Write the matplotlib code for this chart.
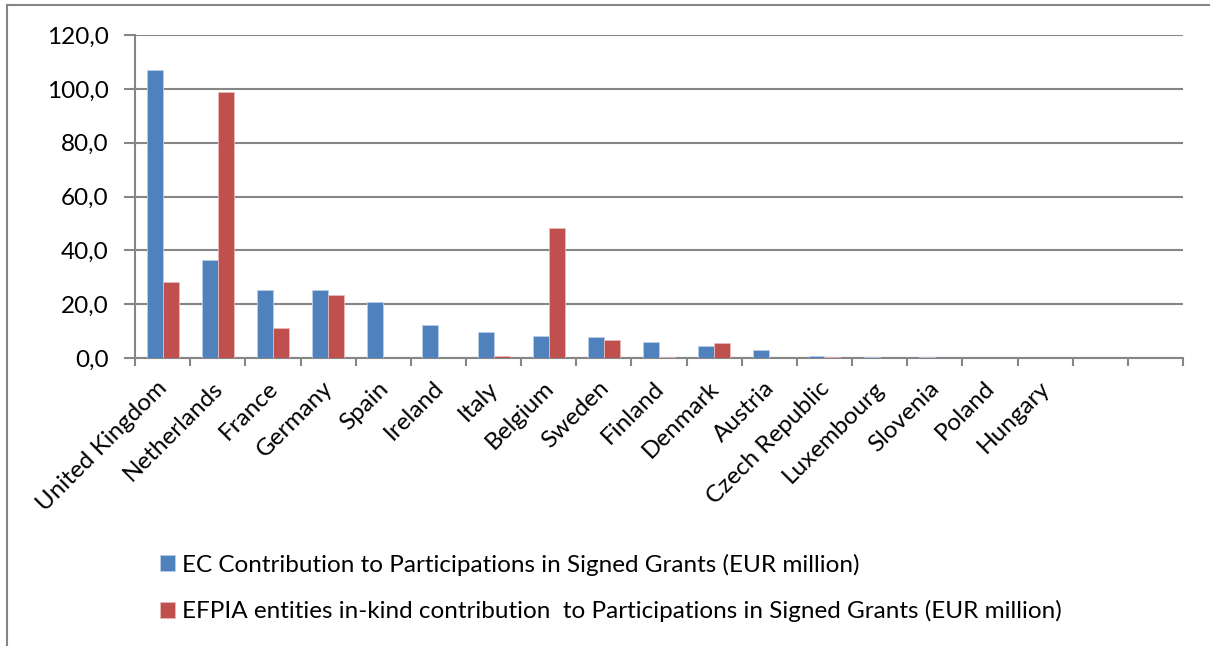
import numpy as np
import matplotlib.pyplot as plt
import matplotlib.transforms as mtransforms
from matplotlib.lines import Line2D

plt.rcParams['font.family'] = ['Lato', 'DejaVu Sans']

# Data (EUR million)
countries = ['United Kingdom', 'Netherlands', 'France', 'Germany', 'Spain',
             'Ireland', 'Italy', 'Belgium', 'Sweden', 'Finland', 'Denmark',
             'Austria', 'Czech Republic', 'Luxembourg', 'Slovenia', 'Poland',
             'Hungary', '', '']
ec_contrib = [107.0, 36.4, 25.3, 25.2, 20.9, 12.3, 9.8, 8.2, 7.7, 6.0, 4.4,
              3.0, 0.6, 0.5, 0.2, 0.1, 0.0, 0.0, 0.0]
efpia_contrib = [28.4, 98.7, 11.3, 23.5, 0.0, 0.0, 0.8, 48.3, 6.6, 0.3, 5.6,
                 0.0, 0.3, 0.0, 0.0, 0.0, 0.0, 0.0, 0.0]
y_ticks = [0, 20, 40, 60, 80, 100, 120]
labels = ['EC Contribution to Participations in Signed Grants (EUR million)',
          'EFPIA entities in-kind contribution  to Participations in Signed Grants (EUR million)']

blue = '#4F81BD'
red = '#C0504D'
grid_col = '#868686'

fig = plt.figure(figsize=(12.1, 6.46), dpi=100)
ax = fig.add_axes([0.1116, 0.4458, 0.8661, 0.5000])

x = np.arange(len(countries))
w = 0.29
ax.bar(x - w / 2, ec_contrib, w, color=blue, edgecolor='#B9CDE5', linewidth=0.6,
       label=labels[0], zorder=3)
ax.bar(x + w / 2, efpia_contrib, w, color=red, edgecolor='#E6B9B8', linewidth=0.6,
       label=labels[1], zorder=3)

ax.set_xlim(-0.5, len(countries) - 0.5)
ax.set_ylim(0, 120)
ax.set_yticks(y_ticks)
ax.set_yticklabels([f'{v:.1f}'.replace('.', ',') for v in y_ticks], fontsize=17.5)
ax.yaxis.grid(True, color=grid_col, linewidth=1.5, zorder=0)

# category labels at centres, tick marks at category boundaries
ax.set_xticks(x)
ax.set_xticklabels(countries, rotation=45, ha='right', va='top',
                   rotation_mode='anchor', fontsize=17.5)
ax.tick_params(axis='x', length=0, pad=14)
shift = mtransforms.ScaledTranslation(-6 / 100, 0, fig.dpi_scale_trans)
for lbl in ax.get_xticklabels():
    lbl.set_transform(lbl.get_transform() + shift)
ax.set_xticks(np.arange(-0.5, len(countries)), minor=True)
ax.tick_params(axis='x', which='minor', length=6, width=1.5, color=grid_col)
ax.tick_params(axis='y', length=8, width=1.5, color=grid_col, pad=11)

for s in ['top', 'right']:
    ax.spines[s].set_visible(False)
for s in ['left', 'bottom']:
    ax.spines[s].set_color(grid_col)
    ax.spines[s].set_linewidth(1.5)

fig.legend(loc='center left', bbox_to_anchor=(0.1322, 0.0898),
           frameon=False, fontsize=17.5, handlelength=0.62, handleheight=0.62,
           handletextpad=0.3, labelspacing=1.0, borderaxespad=0, borderpad=0)

# outer chart border (left and top edges are visible in the reference)
fig.add_artist(Line2D([0.0058, 0.0058], [0, 0.992], transform=fig.transFigure,
                      color=grid_col, linewidth=1.5))
fig.add_artist(Line2D([0.0058, 1.0], [0.992, 0.992], transform=fig.transFigure,
                      color=grid_col, linewidth=1.5))

fig.savefig('out.png', dpi=100)
